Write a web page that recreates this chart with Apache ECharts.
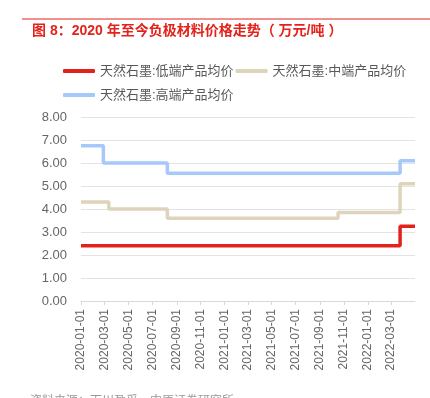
<!DOCTYPE html>
<html>
<head>
<meta charset="utf-8">
<script src="https://cdn.jsdelivr.net/npm/echarts@6/dist/echarts.min.js"></script>
<style>
  html, body { margin: 0; padding: 0; background: #fff; }
  #chart { width: 430px; height: 398px; }
</style>
</head>
<body>
<div id="chart"></div>
<script>
// 系列名称
var seriesNames = ['天然石墨:低端产品均价', '天然石墨:中端产品均价', '天然石墨:高端产品均价'];
// 价格变动日期与价格（万元/吨）
var lowDates = ['2020-01-01', '2022-03-24', '2022-05-01'];
var lowValues = [2.4, 3.25, 3.25];
var midDates = ['2020-01-01', '2020-03-12', '2020-08-08', '2021-10-17', '2022-03-24', '2022-05-01'];
var midValues = [4.3, 4.0, 3.6, 3.85, 5.1, 5.1];
var highDates = ['2020-01-01', '2020-02-27', '2020-08-08', '2022-03-24', '2022-05-01'];
var highValues = [6.75, 6.0, 5.55, 6.1, 6.1];
// 横轴刻度标签
var xTickLabels = ['2020-01-01', '2020-03-01', '2020-05-01', '2020-07-01', '2020-09-01', '2020-11-01',
  '2021-01-01', '2021-03-01', '2021-05-01', '2021-07-01', '2021-09-01', '2021-11-01',
  '2022-01-01', '2022-03-01'];
var xMin = '2020-01-01';
var xMax = '2022-05-01';
var colors = ['#e3231b', '#ded4bb', '#a6c8fb'];

function ts(s) { return Date.UTC(+s.slice(0, 4), +s.slice(5, 7) - 1, +s.slice(8, 10)); }
function pad(n) { return n < 10 ? '0' + n : '' + n; }
function pairs(dates, values) {
  return dates.map(function (d, i) { return [ts(d), values[i]]; });
}

var tickValues = xTickLabels.map(ts);

var chart = echarts.init(document.getElementById('chart'));
var font = '"Liberation Sans", "Noto Sans CJK SC", sans-serif';

chart.setOption({
  animation: false,
  textStyle: { fontFamily: font },
  graphic: [
    { type: 'line', shape: { x1: 22, y1: 19, x2: 430, y2: 19 }, style: { stroke: '#e3231b', lineWidth: 1 } },
    {
      type: 'text', left: 32, top: 24,
      style: { text: '图 8：2020 年至今负极材料价格走势（ 万元/吨 ）', fill: '#e3231b', font: 'bold 14px ' + font }
    },
    {
      type: 'text', left: 30, top: 396,
      style: { text: '资料来源：百川盈孚，中原证券研究所', fill: '#999', font: '12px ' + font }
    }
  ],
  legend: {
    left: 58, top: 55, width: 360,
    itemWidth: 32, itemHeight: 4, itemGap: 2,
    icon: 'roundRect',
    textStyle: { color: '#595959', fontSize: 13, lineHeight: 22 },
    data: seriesNames
  },
  grid: { left: 81, right: 15, top: 117, bottom: 97, containLabel: false },
  xAxis: {
    type: 'value',
    min: ts(xMin),
    max: ts(xMax),
    axisLine: { lineStyle: { color: '#d9d9d9' } },
    axisTick: { show: true, customValues: tickValues, length: 4, lineStyle: { color: '#d9d9d9' } },
    splitLine: { show: false },
    axisLabel: {
      customValues: tickValues,
      rotate: 90, margin: 8, color: '#666', fontSize: 12,
      formatter: function (v) {
        var d = new Date(v);
        return d.getUTCFullYear() + '-' + pad(d.getUTCMonth() + 1) + '-' + pad(d.getUTCDate());
      }
    }
  },
  yAxis: {
    type: 'value',
    min: 0, max: 8, interval: 1,
    axisLine: { show: false },
    axisTick: { show: false },
    splitLine: { lineStyle: { color: '#e3e3e3' } },
    axisLabel: {
      margin: 14, color: '#666', fontSize: 13,
      formatter: function (v) { return v.toFixed(2); }
    }
  },
  series: [
    { name: seriesNames[0], type: 'line', step: 'end', showSymbol: false, data: pairs(lowDates, lowValues),
      lineStyle: { width: 3.5, color: colors[0] }, itemStyle: { color: colors[0] } },
    { name: seriesNames[1], type: 'line', step: 'end', showSymbol: false, data: pairs(midDates, midValues),
      lineStyle: { width: 3.5, color: colors[1] }, itemStyle: { color: colors[1] } },
    { name: seriesNames[2], type: 'line', step: 'end', showSymbol: false, data: pairs(highDates, highValues),
      lineStyle: { width: 3.5, color: colors[2] }, itemStyle: { color: colors[2] } }
  ]
});
</script>
</body>
</html>
